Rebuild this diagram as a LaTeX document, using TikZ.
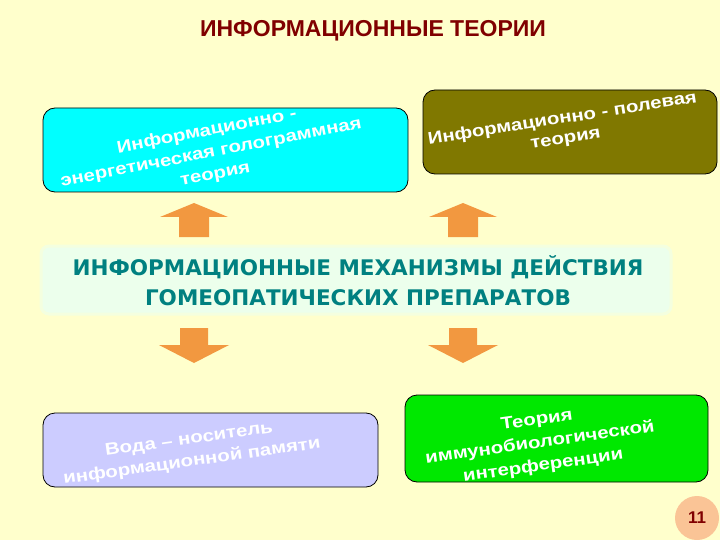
\documentclass[tikz,border=0pt]{standalone}
\usepackage{fontspec}
\setmainfont{Liberation Sans}
\newfontfamily\verdfont{DejaVu Sans}
\newfontfamily\artfont[FakeStretch=1.2]{Liberation Sans}
\usetikzlibrary{positioning}
\definecolor{bgyellow}{RGB}{255,255,204}
\definecolor{titlered}{RGB}{128,0,0}
\definecolor{teal}{RGB}{0,128,128}
\definecolor{boxcyan}{RGB}{0,255,255}
\definecolor{boxolive}{RGB}{128,120,0}
\definecolor{boxlilac}{RGB}{204,204,255}
\definecolor{boxgreen}{RGB}{0,232,0}
\definecolor{mint}{RGB}{236,255,236}
\definecolor{arroworange}{RGB}{242,152,64}
\definecolor{peach}{RGB}{250,196,150}

\begin{document}
\begin{tikzpicture}[x=1pt,y=-1pt,
  theory/.style={draw=black, line width=0.8pt, rounded corners=12pt, inner sep=0pt},
  wordart/.style={text=white, align=center, inner sep=0pt,
                  font=\artfont\bfseries\fontsize{17}{#1}\selectfont},
  blockarrow/.style={fill=arroworange}]

%---------------------------------------
% Background
%---------------------------------------
\fill[bgyellow] (0,0) rectangle (720,540);
\useasboundingbox (0,0) rectangle (720,540);

\node[text=titlered, font=\bfseries\fontsize{23}{23}\selectfont] (title) at (373,31)
  {ИНФОРМАЦИОННЫЕ ТЕОРИИ};

%---------------------------------------
% Upper theories
%---------------------------------------
\node[theory, fill=boxcyan, minimum width=365pt, minimum height=84pt] (holo) at (225.5,150) {};
\node[wordart=22, rotate=11] (holotxt) at (211,153)
  {Информационно -\\энергетическая голограммная\\теория};

\node[theory, fill=boxolive, minimum width=294pt, minimum height=84pt] (field) at (570,132) {};
\node[wordart=20, rotate=9] (fieldtxt) at (564,129)
  {Информационно - полевая\\теория};

%---------------------------------------
% Mechanisms
%---------------------------------------
\node[fill=mint, draw=mint!60!bgyellow, line width=3pt, rounded corners=8pt,
      minimum width=630pt, minimum height=68pt] (mech) at (356,280) {};
\node[text=teal, font=\verdfont\bfseries\fontsize{21.5}{30}\selectfont, align=center] (mechtxt) at (358,281)
  {ИНФОРМАЦИОННЫЕ МЕХАНИЗМЫ ДЕЙСТВИЯ\\ГОМЕОПАТИЧЕСКИХ ПРЕПАРАТОВ};

% Arrows up and down
\foreach \c in {194,463}{
  \fill[blockarrow] (\c-15,237) -- (\c-15,217) -- (\c-34,217) -- (\c,203)
        -- (\c+34,217) -- (\c+15,217) -- (\c+15,237) -- cycle;
  \fill[blockarrow] (\c-14,328) -- (\c+14,328) -- (\c+14,345) -- (\c+35,345)
        -- (\c,363) -- (\c-35,345) -- (\c-14,345) -- cycle;
}

%---------------------------------------
% Lower theories
%---------------------------------------
\node[theory, fill=boxlilac, minimum width=335pt, minimum height=74pt] (water) at (210.5,450) {};
\node[wordart=22, rotate=8] (watertxt) at (190.5,451)
  {Вода – носитель\\информационной памяти};

\node[theory, fill=boxgreen, minimum width=303pt, minimum height=87pt] (immuno) at (556.5,438.5) {};
\node[wordart=23, rotate=8] (immunotxt) at (540,443.5)
  {Теория\\иммунобиологической\\интерференции};

% Page number
\node[circle, fill=peach, minimum size=44pt, text=titlered,
      font=\bfseries\fontsize{17}{17}\selectfont] (page) at (697,518) {11};

\end{tikzpicture}
\end{document}
